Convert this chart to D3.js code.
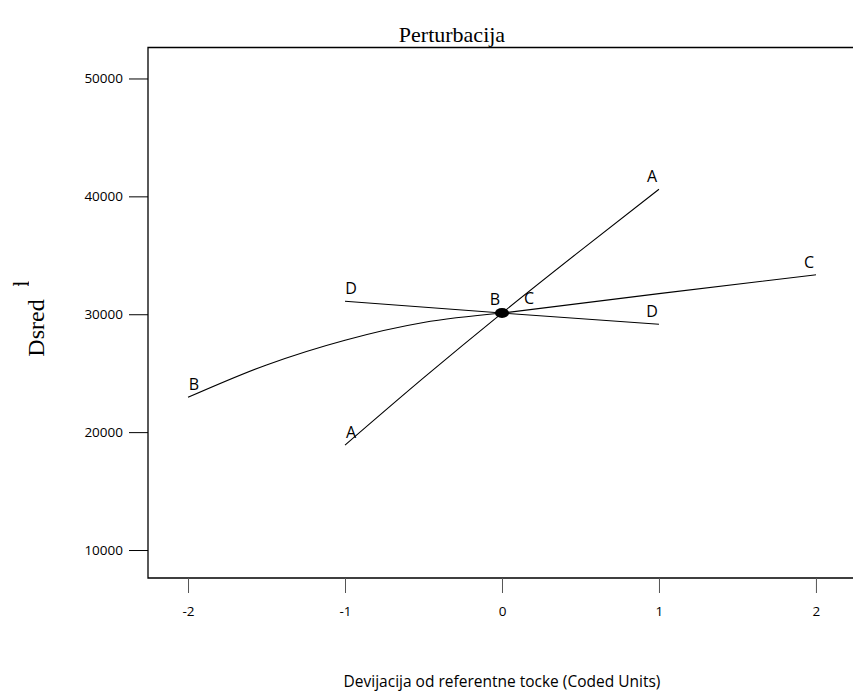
<!DOCTYPE html>
<html><head><meta charset="utf-8">
<script src="https://cdn.jsdelivr.net/npm/d3@7"></script>
<style>body{margin:0;background:#fff}</style>
</head><body>
<svg id="c" width="853" height="693"></svg>
<script>
const title = "Perturbacija";
const xLabel = "Devijacija od referentne tocke (Coded Units)";
const yLabel = "Dsred";
const xTicks = [-2, -1, 0, 1, 2];
const yTicks = [10000, 20000, 30000, 40000, 50000];
const seriesA_x = [-1, -0.5, 0, 0.5, 1];
const seriesA_y = [18900, 24600, 30100, 35400, 40600];
const seriesB_x = [-2, -1.5, -1, -0.5, 0];
const seriesB_y = [22950, 25700, 27800, 29300, 30100];
const seriesC_x = [0, 1, 2];
const seriesC_y = [30100, 31750, 33350];
const seriesD_x = [-1, 0, 1];
const seriesD_y = [31100, 30100, 29150];
const seriesNames = ["A", "B", "C", "D"];
const refPoint = [0, 30100];

const svg = d3.select("#c");
const L = 148, R = 853, T = 47.5, B = 578;
const x = d3.scaleLinear().domain([-2.255, 2.236]).range([L, R]);
const y = d3.scaleLinear().domain([7627, 52627]).range([B, T]);

svg.append("path").attr("d", `M${R},${T}H${L}V${B}H${R}`).attr("fill","none").attr("stroke","#000").attr("stroke-width",1.3);

const fmt = d => String(d);
const ya = svg.append("g").attr("transform",`translate(${L},0)`).call(d3.axisLeft(y).tickValues(yTicks).tickSize(19).tickPadding(6).tickFormat(fmt));
ya.select(".domain").remove();
ya.selectAll("text").attr("font-family","'Open Sans', sans-serif").attr("font-size",13.5).attr("fill","#000");
const xa = svg.append("g").attr("transform",`translate(0,${B})`).call(d3.axisBottom(x).tickValues(xTicks).tickSize(15).tickPadding(13).tickFormat(fmt));
xa.select(".domain").remove();
xa.selectAll("text").attr("font-family","'Open Sans', sans-serif").attr("font-size",13.5).attr("fill","#000");
xa.selectAll("line").attr("stroke","#555");

const line = d3.line().x(d=>x(d[0])).y(d=>y(d[1])).curve(d3.curveMonotoneX);
const series = [
  [seriesA_x, seriesA_y],
  [seriesB_x, seriesB_y],
  [seriesC_x, seriesC_y],
  [seriesD_x, seriesD_y]
];
series.forEach(([xs, ys], i) => {
  const pts = xs.map((v,k)=>[v, ys[k]]);
  svg.append("path").attr("d", line(pts)).attr("fill","none").attr("stroke","#000").attr("stroke-width",1.1);
  const ends = [pts[0], pts[pts.length-1]];
  ends.forEach((p, j) => {
    let dx = j === 0 ? 6 : -7, dy = -7;
    if (i === 2 && j === 0) { dx = 27; dy = -9; }
    if (i === 1 && j === 1) { dx = -7; dy = -8; }
    svg.append("text").attr("x", x(p[0]) + dx).attr("y", y(p[1]) + dy)
      .attr("text-anchor","middle").attr("font-family","'Open Sans', sans-serif").attr("font-size",16).text(seriesNames[i]);
  });
});

svg.append("ellipse").attr("cx", x(refPoint[0])).attr("cy", y(refPoint[1])).attr("rx",7).attr("ry",5).attr("fill","#000");

svg.append("text").attr("x",452).attr("y",42).attr("text-anchor","middle")
  .attr("font-family","'Liberation Serif', 'Times New Roman', serif").attr("font-size",22).text(title);
svg.append("text").attr("x",502).attr("y",687).attr("text-anchor","middle")
  .attr("font-family","'Open Sans', sans-serif").attr("font-size",15.5).text(xLabel);
svg.append("text").attr("transform","translate(44,328) rotate(-90)").attr("text-anchor","middle")
  .attr("font-family","'Liberation Serif', 'Times New Roman', serif").attr("font-size",24).text(yLabel);
svg.append("defs").append("clipPath").attr("id","dc").append("rect").attr("x",10).attr("y",277).attr("width",19).attr("height",9);
svg.append("g").attr("clip-path","url(#dc)").append("text").attr("transform","translate(29,287) rotate(-90)").attr("text-anchor","middle")
  .attr("font-family","'Liberation Serif', 'Times New Roman', serif").attr("font-size",24).text("d");
</script>
</body></html>
